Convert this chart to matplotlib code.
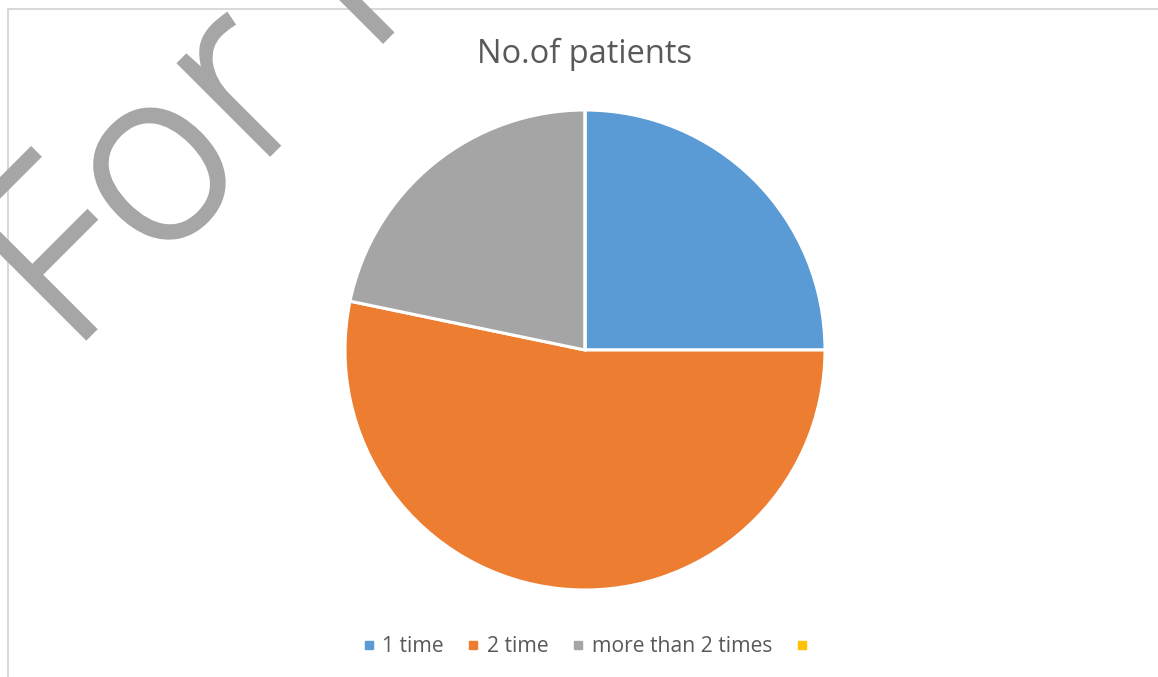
import matplotlib
matplotlib.use("Agg")
from matplotlib import pyplot as plt
from matplotlib import patheffects
from matplotlib.lines import Line2D
from matplotlib.patches import Rectangle

# data
labels = ["1 time", "2 time", "more than 2 times", ""]
patients = [23, 49, 20, 0]
colors = ["#5b9bd5", "#ed7d31", "#a5a5a5", "#ffc000"]

W, H = 1158, 677
fig = plt.figure(figsize=(W / 100, H / 100), dpi=100)
plt.rcParams["font.family"] = ["Open Sans", "DejaVu Sans"]

# pie axes: centre (585, 350) px, radius 240 px
cx, cy, r = 585, 350, 240
ax = fig.add_axes([(cx - r) / W, (H - cy - r) / H, 2 * r / W, 2 * r / H])
ax.pie(patients, colors=colors, startangle=90, counterclock=False, radius=1,
       wedgeprops=dict(edgecolor="white", linewidth=2.2))
ax.set_xlim(-1, 1)
ax.set_ylim(-1, 1)
ax.set_aspect("equal")
ax.axis("off")

fig.text(585 / W, 1 - 54 / H, "No.of patients", ha="center", va="center",
         fontsize=23.5, color="#595959")

handles = [Line2D([], [], linestyle="none", marker="s", markersize=6,
                  markerfacecolor=c, markeredgecolor=c) for c in colors]
fig.legend(handles, labels, loc="center", bbox_to_anchor=(589 / W, 1 - 647 / H),
           ncol=4, frameon=False, fontsize=15.2, labelcolor="#595959",
           handlelength=0.55, handletextpad=0.35, columnspacing=1.15)

# chart frame (runs off the right and bottom edges)
fig.add_artist(Rectangle((8 / W, -0.1), 1.2, 1.1 - 9 / H, transform=fig.transFigure,
                         fill=False, edgecolor="#d9d9d9", linewidth=1.5))

# watermark
fig.text(69 / W, 1 - 355 / H, "For Review", rotation=45, rotation_mode="anchor",
         ha="left", va="baseline", fontsize=174, fontweight="light",
         color="#a6a6a6",
         path_effects=[patheffects.withStroke(linewidth=3, foreground="#a6a6a6",
                                              joinstyle="miter")])

fig.savefig("out.png", dpi=100)
